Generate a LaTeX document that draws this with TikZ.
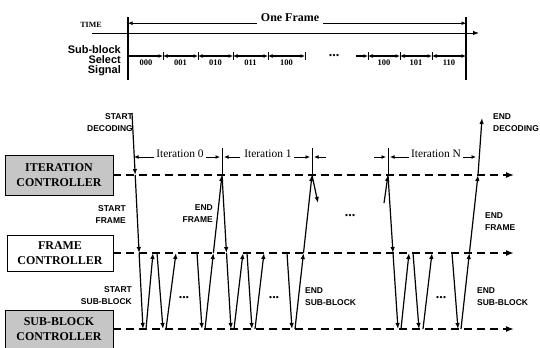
\documentclass[tikz,border=0pt]{standalone}
\usepackage{fontspec}
\setmainfont{Liberation Serif}
\setsansfont{Liberation Sans}
\usetikzlibrary{arrows.meta}

\tikzset{
  sig/.style={-{Latex[length=6bp,width=4.5bp]}, line width=1.2bp},
  bus/.style={dash pattern=on 8bp off 5bp, line width=1.5bp, -{Latex[length=8bp,width=6bp]}},
  ctrl/.style={draw, line width=0.6bp, minimum width=108bp, minimum height=40bp,
    align=center, font=\fontsize{12}{15}\selectfont\bfseries},
  lbl/.style={font=\fontsize{8.5}{12}\selectfont\sffamily\bfseries, inner sep=0pt},
  dim/.style={-{Latex[length=4.5bp,width=4bp]}, line width=0.9bp},
  slot/.style={{Latex[length=4.5bp,width=4bp]}-{Latex[length=4.5bp,width=4bp]}, line width=1.3bp},
  slab/.style={font=\fontsize{8.5}{9}\selectfont\bfseries, inner sep=0pt},
  itlab/.style={font=\fontsize{11.5}{12}\selectfont, inner sep=0pt, anchor=base},
  dotz/.style={font=\fontsize{14}{14}\selectfont\bfseries, inner sep=0pt},
}

\begin{document}
\begin{tikzpicture}[x=1bp,y=-1bp]
  \useasboundingbox (0,0) rectangle (540,347);

  % time axis and one frame
  \node[font=\fontsize{8}{9}\selectfont\bfseries] (time) at (91,25) {TIME};
  \coordinate (t0) at (92,33);
  \coordinate (t1) at (479,33);
  \draw[sig, line width=1bp] (t0) -- (t1);
  \coordinate (fa) at (128,17);
  \coordinate (fb) at (466,17);
  \draw[line width=1.1bp] (fa) -- (128,80);
  \draw[line width=1.1bp] (fb) -- (466,80);
  \node[font=\fontsize{12}{12}\selectfont\bfseries, inner sep=2bp] (oneframe) at (290,18) {One Frame};
  \draw[dim] (oneframe.south west) ++(-2,-1) coordinate (ofl) -- (fa |- ofl);
  \draw[dim] (oneframe.south east) ++(2,-1) coordinate (ofr) -- (fb |- ofr);

  % sub-block select signal
  \node[font=\fontsize{11}{10}\selectfont\sffamily\bfseries, align=right, anchor=east, inner sep=0pt]
    (sbsel) at (121,61) {Sub-block\\Select\\Signal};
  \draw[-{Latex[length=4.5bp,width=4bp]}, line width=1.3bp] (128,56) -- (163,56);
  \node[slab] at (146,63) {000};
  \foreach \a/\b/\t in {163/198/001, 198/233/010, 233/268/011, 268/305/100,
                        368/400/100, 400/432/101, 432/466/110}{
    \draw[slot] (\a,56) -- (\b,56);
    \node[slab] at ({(\a+\b)/2},63) {\t};
  }
  \foreach \x in {163,198,233,268,305,368,400,432}
    \draw[line width=0.9bp] (\x,52) -- (\x,60);
  \draw[-{Latex[length=4.5bp,width=4bp]}, line width=1.3bp] (356,56) -- (368,56);
  \node[dotz] at (334,56) {...};

  % controllers
  \node[ctrl, fill=gray!45] (itctrl) at (59,175) {ITERATION\\CONTROLLER};
  \node[ctrl, fill=white, minimum width=106bp, minimum height=36bp] (frctrl) at (60,253) {FRAME\\CONTROLLER};
  \node[ctrl, fill=gray!45, minimum height=38bp] (sbctrl) at (59,329) {SUB-BLOCK\\CONTROLLER};
  \coordinate (itend) at (514,175);
  \coordinate (frend) at (514,253);
  \coordinate (sbend) at (514,329);
  \draw[bus, line width=1.3bp] (itctrl) -- (itend);
  \draw[bus, line width=2.2bp] (frctrl) -- (frend);
  \draw[bus] (sbctrl) -- (sbend);
  % redraw boxes over line starts
  \node[ctrl, fill=gray!45] at (59,175) {ITERATION\\CONTROLLER};
  \node[ctrl, fill=white, minimum width=106bp, minimum height=36bp] at (60,253) {FRAME\\CONTROLLER};
  \node[ctrl, fill=gray!45, minimum height=38bp] at (59,329) {SUB-BLOCK\\CONTROLLER};

  % iteration boundaries
  \coordinate (sd) at (132,113);
  \coordinate (s0) at (135.2,175);
  \coordinate (e0) at (222,175);
  \coordinate (e1) at (312,175);
  \coordinate (sn) at (388,175);
  \coordinate (en) at (478,175);
  \coordinate (ed) at (482,118);
  \foreach \c in {e0,e1,sn}
    \draw[line width=0.9bp] (\c) -- ++(0,-27);

  % iteration labels
  \node[itlab] (it0) at (180,157) {Iteration 0};
  \node[itlab] (it1) at (268,157) {Iteration 1};
  \node[itlab] (itn) at (436,157) {Iteration N};
  \draw[dim] (it0.base west) ++(-2,0) -- (134,157);
  \draw[dim] (it0.base east) ++(2,0) -- (220,157);
  \draw[dim] (240,157) -- (224,157);
  \draw[dim] (it1.base east) ++(2,0) -- (310,157);
  \draw[dim] (326,157) -- (314,157);
  \draw[dim] (374,157) -- (386,157);
  \draw[dim] (itn.base west) ++(-2,0) -- (390,157);
  \draw[dim] (itn.base east) ++(2,0) -- (476,157);

  % iteration 0
  \draw[sig] (sd) -- (s0);
  \draw[sig] (s0) -- (139.1,253) coordinate (f0);
  \draw[sig] (f0) -- (143,329);
  % iteration 1
  \draw[sig] (e0) -- (226.5,253) coordinate (f1);
  \draw[sig] (f1) -- (231,329);
  \draw[sig] (e1) -- (318,203);
  % iteration N
  \draw[sig] (384,203) -- (sn);
  \draw[sig] (sn) -- (393,253) coordinate (fn);
  \draw[sig] (fn) -- (398,329);

  % sub-block handshakes
  \foreach \u/\v in {146/153, 166/176, 234/243, 255/264, 401/409, 423/432}
    \draw[sig] (\u,329) -- (\v,253);
  \foreach \u/\v in {157/163, 197/202, 247/252, 287/292, 413/419, 452/458}
    \draw[sig] (\u,253) -- (\v,329);
  % end of frames
  \draw[sig] (205,329) -- (213.4,253) coordinate (g0);
  \draw[sig] (g0) -- (e0);
  \draw[sig] (295,329) -- (303.5,253) coordinate (g1);
  \draw[sig] (g1) -- (e1);
  \draw[sig] (461,329) -- (469.4,253) coordinate (gn);
  \draw[sig] (gn) -- (en);
  \draw[sig] (en) -- (ed);

  % dots
  \node[dotz] at (184,298) {...};
  \node[dotz] at (274,298) {...};
  \node[dotz] at (441,298) {...};
  \node[dotz] at (350,216) {...};

  % signal names
  \node[lbl, align=right, anchor=east] at (133,123) {START\\DECODING};
  \node[lbl, align=right, anchor=east] at (126,215) {START\\FRAME};
  \node[lbl, align=right, anchor=east] at (132,296) {START\\SUB-BLOCK};
  \node[lbl, align=right, anchor=east] at (213,214) {END\\FRAME};
  \node[lbl, align=left, anchor=west] at (493,123) {END\\DECODING};
  \node[lbl, align=left, anchor=west] at (485,222) {END\\FRAME};
  \node[lbl, align=left, anchor=west] at (305,297) {END\\SUB-BLOCK};
  \node[lbl, align=left, anchor=west] at (477,297) {END\\SUB-BLOCK};
\end{tikzpicture}
\end{document}
